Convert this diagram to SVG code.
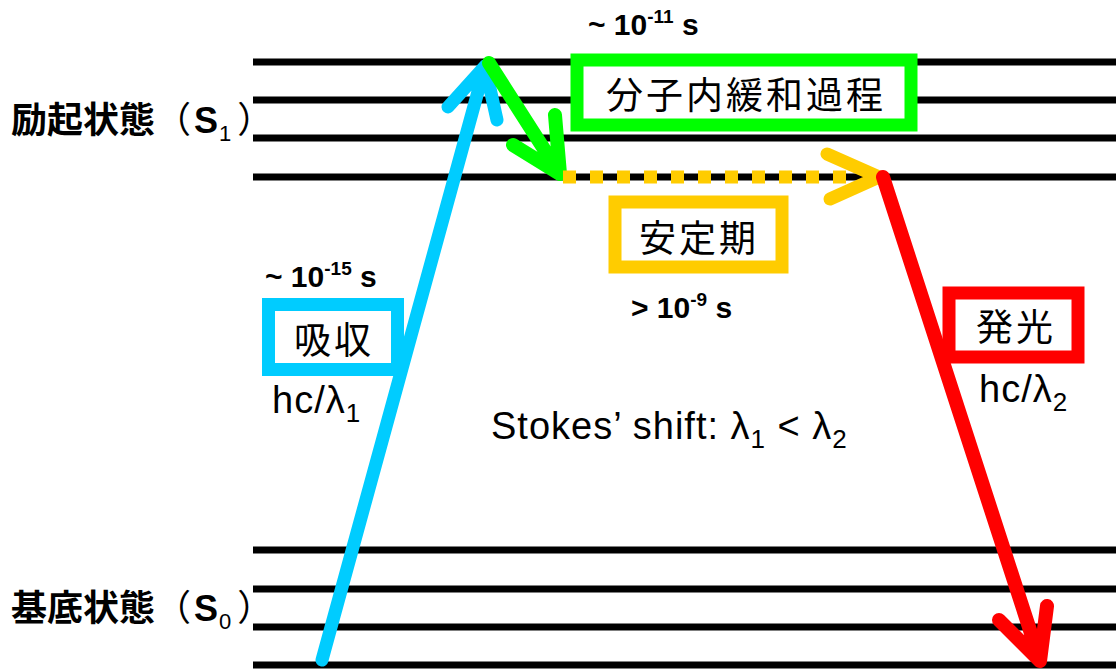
<svg xmlns="http://www.w3.org/2000/svg" width="1116" height="669" viewBox="0 0 1116 669">
<style>
.lvl{stroke:#000;stroke-width:7;fill:none}
.lbl{font-family:"Noto Sans CJK JP","Noto Sans CJK SC",sans-serif;font-size:36px;font-weight:bold;fill:#000}
.box{fill:#fff;stroke-width:13}
.jp{font-family:"Noto Sans CJK JP","Noto Sans CJK SC",sans-serif;font-size:37px;fill:#000;text-anchor:middle;letter-spacing:3px}
.t{font-family:"Liberation Sans",Arial,sans-serif;font-weight:bold;font-size:30px;fill:#000}
.m{font-family:"Liberation Sans",Arial,sans-serif;font-size:38px;fill:#000;letter-spacing:1px}
.arr{fill:none;stroke-linecap:round;stroke-linejoin:round}
</style>
<rect width="1116" height="669" fill="#fff"/>
<g id="levels">
<line class="lvl" x1="253" y1="62" x2="1116" y2="62"/>
<line class="lvl" x1="253" y1="100" x2="1116" y2="100"/>
<line class="lvl" x1="253" y1="138" x2="1116" y2="138"/>
<line class="lvl" x1="253" y1="177" x2="1116" y2="177"/>
<line class="lvl" x1="253" y1="550" x2="1116" y2="550"/>
<line class="lvl" x1="253" y1="589" x2="1116" y2="589"/>
<line class="lvl" x1="253" y1="627" x2="1116" y2="627"/>
<line class="lvl" x1="253" y1="665" x2="1116" y2="665"/>
</g>
<g id="label-s1"><text class="lbl" x="11" y="133">励起状態<tspan font-weight="normal">（</tspan><tspan font-family="Liberation Sans" dx="3">S</tspan><tspan font-family="Liberation Sans" font-weight="normal" font-size="22" dx="1" dy="8">1</tspan><tspan font-weight="normal" dx="6" dy="-8">）</tspan></text></g>
<g id="label-s0"><text class="lbl" x="11" y="621">基底状態<tspan font-weight="normal">（</tspan><tspan font-family="Liberation Sans" dx="3">S</tspan><tspan font-family="Liberation Sans" font-weight="normal" font-size="22" dx="1" dy="8">0</tspan><tspan font-weight="normal" dx="6" dy="-8">）</tspan></text></g>
<g id="ivr">
<rect class="box" x="577" y="60" width="334" height="65" stroke="#00FF00"/>
<text class="jp" x="746" y="109">分子内緩和過程</text>
<text class="t" x="588" y="35">~ 10<tspan font-size="19" dy="-12">-11</tspan><tspan dy="12"> s</tspan></text>
</g>
<g id="stable">
<rect class="box" x="615" y="202" width="167" height="65" stroke="#FFCC00"/>
<text class="jp" x="699" y="252">安定期</text>
<text class="t" x="631" y="318">&gt; 10<tspan font-size="19" dy="-12">-9</tspan><tspan dy="12"> s</tspan></text>
</g>
<g id="absorb">
<rect class="box" x="268.5" y="304.5" width="129" height="65" stroke="#00CCFF"/>
<text class="jp" x="334" y="354">吸収</text>
<text class="t" x="265" y="287">~ 10<tspan font-size="19" dy="-12">-15</tspan><tspan dy="12"> s</tspan></text>
<text class="m" x="272" y="413">hc/λ<tspan font-size="26" dy="9">1</tspan></text>
</g>
<g id="emit">
<rect class="box" x="949" y="293" width="129" height="64" stroke="#FF0000"/>
<text class="jp" x="1016" y="341">発光</text>
<text class="m" x="979" y="402">hc/λ<tspan font-size="26" dy="9">2</tspan></text>
</g>
<g id="stokes"><text class="m" x="491" y="439" letter-spacing="1.8">Stokes’ shift: λ<tspan font-size="26" dy="9">1</tspan><tspan dy="-9"> &lt; λ</tspan><tspan font-size="26" dy="9">2</tspan></text></g>
<g id="connectors">
<path class="arr" stroke="#00CCFF" stroke-width="13" d="M322,660 L485,66 M448,107 L485,66 L497,120"/>
<path class="arr" stroke="#00FF00" stroke-width="14" d="M489,63 L560,174 M513,145 L560,174 L555,115"/>
<path fill="none" stroke="#FFCC00" stroke-width="13" stroke-dasharray="13 14" d="M563,177 L852,177"/>
<path class="arr" stroke="#FFCC00" stroke-width="13" d="M827,154 L879,177 L830,199"/>
<path class="arr" stroke="#FF0000" stroke-width="14" d="M883,177 L1040,661 M999,620 L1040,661 L1047,606"/>
</g>
</svg>
